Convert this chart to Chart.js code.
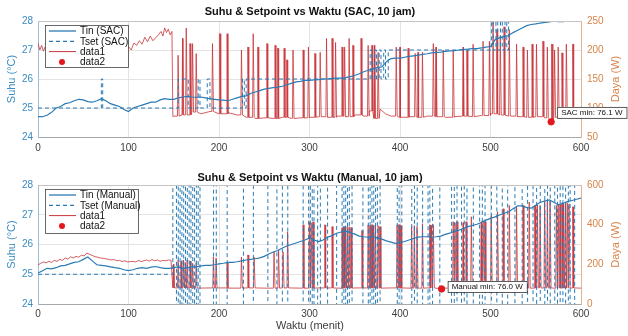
<!DOCTYPE html>
<html>
<head>
<meta charset="utf-8">
<script src="https://cdn.jsdelivr.net/npm/chart.js@4.4.0/dist/chart.umd.min.js"></script>
<style>
  body { margin:0; background:#fff; width:628px; height:336px; overflow:hidden; position:relative; }
  canvas { position:absolute; left:0; }
  #sacChart { top:0; }
  #manChart { top:165px; }
</style>
</head>
<body>
<canvas id="sacChart" width="628" height="160"></canvas>
<canvas id="manChart" width="628" height="171"></canvas>
<script>
// Suhu & daya, SAC vs Manual (10 jam)

const FONT = '"Liberation Sans", Arial, sans-serif';
const BLUE = '#2a7bb5', RED = '#c8353a', DOT = '#e3181e';
const LEFT_CLR = '#3b8cc2', RIGHT_CLR = '#d9834a', GRID = '#e3e3e3';

// --- data: SAC ---
const tinStep = 5; // Tin read every 5 minutes, 0..600
const sacTin = [
  24.70,24.70,24.75,24.85,25.00,25.05,25.15,25.18,25.25,25.30,
  25.28,25.22,25.20,25.25,25.32,25.25,25.15,25.10,25.05,24.95,
  24.88,25.00,25.05,25.10,25.15,25.20,25.20,25.28,25.32,25.30,
  25.30,25.35,25.38,25.40,25.38,25.37,25.38,25.35,25.32,25.30,
  25.28,25.27,25.25,25.30,25.35,25.40,25.42,25.50,25.55,25.60,
  25.65,25.68,25.70,25.72,25.75,25.80,25.85,25.90,25.92,25.95,
  25.95,25.97,25.98,26.00,26.00,26.02,26.03,26.03,26.05,26.08,
  26.12,26.18,26.25,26.30,26.35,26.40,26.42,26.60,26.70,26.72,
  26.72,26.75,26.78,26.80,26.82,26.85,26.87,26.90,26.92,26.93,
  26.95,26.97,26.98,27.00,27.02,27.03,27.05,27.05,27.07,27.10,
  27.12,27.35,27.42,27.47,27.50,27.60,27.68,27.76,27.84,27.88,
  27.90,27.93,27.95,27.97,28.00,27.98,27.98,28.00,28.02,28.03,
  28.06
];
const sacTsetAt    = [0,70,71.5,155,166,177,179,187,190,226,228,230,367,369,372,374,377,379,382,384,387,501,503,506,508,511,513,516,518,520,600];
const sacTsetLevel = [25,26,25,  26, 25, 26, 25, 26, 25, 26, 25, 26, 27, 26, 27, 26, 27, 26, 27, 26, 27, 28, 27, 28, 27, 28, 27, 28, 27, 28, 28];

const sacPreX = [0,2,4,6,8,12,16,20,24,28,32,36,40,44,48,52,56,60,64,68,72,76,80,84,88,92,96,100,103,106,109,112,115,118,121,124,127,130,133,136,138,140,142,144,146,148,149];
const sacPreY = [212,200,208,198,206,204,210,202,208,212,205,210,214,206,212,208,215,210,205,212,208,214,206,212,208,204,200,206,200,212,208,216,210,222,214,224,216,221,226,232,224,238,230,236,226,232,85];
const sacBaseX = [150,160,170,180,190,200,210,220,230,240,250,260,270,280,290,300,310,320,330,340,350,360,366,372,378,384,390,400,410,420,430,440,450,460,470,480,490,500,510,520,530,540,550,560,567,570,580,590,600];
const sacBaseY = [86,88,93,90,94,90,92,88,84,82,83,82,84,82,83,84,85,84,86,85,88,86,95,82,98,90,86,84,85,84,86,85,84,85,86,85,87,90,88,86,85,84,85,83,78,84,85,86,85];
const sacSpikeX = [155,160,164,168,171,175,193,201,209,225,232,238,243,253,262,265,272,275,282,293,299,306,312,319,325,329,336,339,344,348,357,365,369,372,376,396,400,409,417,420,425,437,440,448,459,470,474,481,492,499,503,507,511,515,521,529,536,541,546,551,558,563,568,571,575,579,584,591];
const sacSpikeY = [191,220,238,211,211,194,211,228,228,200,205,228,205,211,208,203,203,183,200,200,205,194,196,220,220,213,205,205,220,208,220,208,208,208,196,205,205,203,194,196,196,211,205,200,200,205,200,210,215,215,250,235,225,240,235,210,205,200,210,210,215,205,210,200,205,195,210,210];
const sacMin = {x:567, y:76.1};

// --- data: Manual ---
const manTin = [
  25.04,25.12,25.20,25.18,25.22,25.28,25.30,25.35,25.40,25.42,
  25.50,25.58,25.45,25.32,25.30,25.28,25.25,25.22,25.20,25.15,
  25.12,25.15,25.20,25.22,25.20,25.24,25.26,25.22,25.20,25.20,
  25.22,25.25,25.20,25.22,25.25,25.25,25.28,25.30,25.30,25.32,
  25.35,25.37,25.40,25.40,25.42,25.45,25.48,25.50,25.52,25.55,
  25.60,25.68,25.75,25.80,25.88,25.95,26.00,26.05,26.10,26.15,
  26.22,26.15,26.10,26.15,26.25,26.30,26.38,26.42,26.45,26.40,
  26.35,26.28,26.26,26.25,26.26,26.22,26.18,26.12,26.08,26.04,
  26.06,26.10,26.15,26.20,26.25,26.26,26.26,26.25,26.26,26.28,
  26.34,26.38,26.44,26.48,26.54,26.60,26.64,26.68,26.74,26.82,
  26.88,26.93,26.99,27.05,27.10,27.20,27.30,27.30,27.24,27.22,
  27.32,27.42,27.46,27.50,27.42,27.33,27.38,27.44,27.48,27.52,
  27.56
];
// setpoint jumps far off the axis after 149 min, only the vertical edges show
const manTsetSwitch = [149,153,155,157,159,161,163,165,167,169,171,173,175,177,179,194,197,209,227,238,254,264,270,276,293,299,301,303,305,309,312,320,330,336,338,340,342,344,347,359,365,367,369,371,373,375,378,397,399,402,413,416,419,425,431,433,436,444,457,460,463,468,471,474,481,488,491,494,501,507,513,519,527,535,541,547,551,555,560,563,566,571,574,577,580,583,586,588,593];
const manTsetHi = 31, manTsetLo = 17, manTsetStart = 25;

const manPreX = [0,3,6,9,12,15,18,21,24,27,30,33,36,39,42,45,48,51,54,57,60,63,66,69,72,75,78,81,84,87,90,93,96,99,102,105,108,111,114,117,120,123,126,129,132,135,138,141,144,147,149];
const manPreY = [197,205,212,208,215,210,220,215,225,220,232,226,238,232,240,236,246,242,257,250,245,238,236,232,230,228,225,222,224,218,220,214,218,212,214,215,212,220,214,218,222,216,224,218,222,215,220,218,222,220,81];
const manBaseX = [150,170,190,210,230,250,270,290,310,330,350,370,390,410,430,446,450,470,490,510,530,550,570,590,600];
const manBaseY = [81,80,81,80,81,80,81,80,81,80,81,80,81,80,81,76,80,81,80,81,80,81,80,81,80];
const manSpikeX = [150,155,158,161,163,165,168,171,175,194,197,209,225,232,239,261,266,271,276,293,300,302,304,317,325,336,338,340,342,344,346,358,365,367,369,371,373,376,378,397,399,401,413,416,419,425,433,435,437,459,461,463,470,473,479,490,492,494,501,508,514,521,529,536,543,549,552,555,560,563,566,573,575,577,579,581,583,585,587,591];
const manSpikeY = [200,222,215,222,210,222,215,205,210,237,232,207,237,247,237,263,273,263,364,399,414,410,414,399,390,385,390,392,388,390,385,370,399,395,400,395,399,395,390,399,400,395,390,395,390,405,399,395,400,415,410,415,410,415,440,415,420,415,445,465,480,497,490,497,514,497,500,497,522,515,520,497,505,500,510,505,500,510,505,490];
const manMin = {x:446, y:76.0};

const timeTicks = [0,100,200,300,400,500,600];

// build a power trace from the read pre-150 values, baseline levels and spike tops
function buildPower(preX, preY, baseX, baseY, spikeX, spikeY) {
  const pts = preX.map((x,i)=>({x, y:preY[i]}));
  baseX.forEach((x,i)=>pts.push({x, y:baseY[i]}));
  const baseAt = x => {
    let b = baseY[0];
    baseX.forEach((bx,i)=>{ if (bx <= x) b = baseY[i]; });
    return b;
  };
  spikeX.forEach((x,i)=>{
    const b = baseAt(x);
    pts.push({x:x-0.9, y:b}, {x:x-0.2, y:spikeY[i]}, {x:x+0.2, y:spikeY[i]}, {x:x+0.9, y:b});
  });
  return pts.sort((p,q)=>p.x-q.x);
}

const sacTsetPts = sacTsetAt.map((x,i)=>({x, y:sacTsetLevel[i]}));
const manTsetPts = [{x:0, y:manTsetStart}]
  .concat(manTsetSwitch.map((x,i)=>({x, y: i%2 ? manTsetLo : manTsetHi})))
  .concat([{x:600, y: manTsetSwitch.length%2 ? manTsetHi : manTsetLo}]);

// --- overlay: titles, axis labels, legend, datatip ---
const overlay = {
  id:'overlay',
  afterDraw(chart, args, o) {
    const {ctx, chartArea:a} = chart;
    ctx.save();
    // top edge of the box
    ctx.strokeStyle = '#c4c4c4'; ctx.lineWidth = 1;
    ctx.beginPath(); ctx.moveTo(a.left, a.top+0.5); ctx.lineTo(a.right, a.top+0.5); ctx.stroke();

    ctx.textBaseline = 'middle';
    ctx.textAlign = 'center';
    ctx.fillStyle = '#111';
    ctx.font = `bold 11px ${FONT}`;
    ctx.fillText(o.title, o.titleX, o.titleY);

    if (o.xTitle) {
      ctx.font = `11px ${FONT}`; ctx.fillStyle = '#404040';
      ctx.fillText(o.xTitle, o.titleX, o.xTitleY);
    }

    const midY = (a.top + a.bottom) / 2;
    ctx.font = `11px ${FONT}`;
    ctx.fillStyle = LEFT_CLR;
    ctx.save(); ctx.translate(12, midY); ctx.rotate(-Math.PI/2); ctx.fillText('Suhu (°C)', 0, 0); ctx.restore();
    ctx.fillStyle = RIGHT_CLR;
    ctx.save(); ctx.translate(616, midY); ctx.rotate(-Math.PI/2); ctx.fillText('Daya (W)', 0, 0); ctx.restore();

    // legend
    const L = o.legend;
    ctx.fillStyle = '#fff'; ctx.fillRect(L.x, L.y, L.w, L.h);
    ctx.strokeStyle = '#444'; ctx.lineWidth = 0.8; ctx.strokeRect(L.x+0.5, L.y+0.5, L.w, L.h);
    ctx.textAlign = 'left';
    ctx.font = `10px ${FONT}`;
    chart.data.datasets.forEach((ds, i) => {
      const ry = L.y + 6 + i*10.3;
      ctx.strokeStyle = ds.borderColor;
      ctx.lineWidth = ds.label === 'data1' ? 1 : 1.3;
      ctx.setLineDash(ds.borderDash || []);
      if (ds.showLine === false) {
        ctx.fillStyle = DOT;
        ctx.beginPath(); ctx.arc(L.x + 17, ry, 3, 0, Math.PI*2); ctx.fill();
      } else {
        ctx.beginPath(); ctx.moveTo(L.x + 4, ry); ctx.lineTo(L.x + 31, ry); ctx.stroke();
      }
      ctx.setLineDash([]);
      ctx.fillStyle = '#111';
      ctx.fillText(ds.label, L.x + 35, ry + 0.5);
    });

    // datatip on the minimum
    const pt = chart.getDatasetMeta(3).data[0];
    if (pt) {
      ctx.font = `8px ${FONT}`;
      const tw = ctx.measureText(o.tip).width;
      const bx = pt.x + o.tipDx, by = pt.y + o.tipDy;
      ctx.fillStyle = '#fff'; ctx.fillRect(bx, by, tw + 8, 11);
      ctx.strokeStyle = '#333'; ctx.lineWidth = 0.8; ctx.strokeRect(bx+0.5, by+0.5, tw + 8, 11);
      ctx.fillStyle = '#111';
      ctx.fillText(o.tip, bx + 4, by + 6);
    }
    ctx.restore();
  }
};

function makeChart(id, cfg) {
  const xAxis = {
    type:'linear', min:0, max:600,
    afterBuildTicks: s => { s.ticks = timeTicks.map(v=>({value:v})); },
    afterFit: s => { s.height = cfg.xHeight; },
    grid:{color:GRID, drawTicks:false},
    border:{color:'#a8a8a8'},
    ticks:{color:'#404040', padding:cfg.xPad, font:{family:FONT, size:10}, maxRotation:0}
  };
  return new Chart(document.getElementById(id), {
    type:'line',
    data:{ datasets:[
      {label:cfg.names[0], data:cfg.tin.map((y,i)=>({x:i*tinStep, y})), yAxisID:'y',
       borderColor:BLUE, borderWidth:1.2, pointRadius:0, order:1},
      {label:cfg.names[1], data:cfg.tset, yAxisID:'y', stepped:true, borderDash:[4,3],
       borderColor:BLUE, borderWidth:1, pointRadius:0, order:2},
      {label:'data1', data:cfg.power, yAxisID:'y1',
       borderColor:RED, borderWidth:0.8, pointRadius:0, order:3},
      {label:'data2', data:[cfg.min], yAxisID:'y1', showLine:false,
       borderColor:DOT, pointRadius:3.2, pointBackgroundColor:DOT, pointBorderColor:DOT, order:0}
    ]},
    options:{
      responsive:false, animation:false, devicePixelRatio:1,
      layout:{padding:{top:cfg.padTop, left:0, right:0, bottom:0}},
      plugins:{legend:{display:false}, tooltip:{enabled:false}, overlay:cfg.overlay},
      scales:{
        x:xAxis,
        y:{position:'left', min:24, max:28,
           afterFit: s => { s.width = 38; },
           grid:{color:GRID, drawTicks:false}, border:{color:'#9cc0dc'},
           ticks:{stepSize:1, color:LEFT_CLR, padding:5, font:{family:FONT, size:10}}},
        y1:{position:'right', min:cfg.pMin, max:cfg.pMax,
           afterFit: s => { s.width = 47; },
           grid:{display:false, drawTicks:false}, border:{color:'#e3b48f'},
           ticks:{stepSize:cfg.pStep, color:RIGHT_CLR, padding:6, font:{family:FONT, size:10}}}
      }
    },
    plugins:[overlay]
  });
}

makeChart('sacChart', {
  names:['Tin (SAC)','Tset (SAC)'],
  tin:sacTin, tset:sacTsetPts,
  power:buildPower(sacPreX, sacPreY, sacBaseX, sacBaseY, sacSpikeX, sacSpikeY),
  min:sacMin, pMin:50, pMax:250, pStep:50,
  padTop:21, xHeight:23, xPad:5,
  overlay:{title:'Suhu & Setpoint vs Waktu (SAC, 10 jam)', titleX:310, titleY:12,
           legend:{x:45, y:25, w:83, h:42}, tip:'SAC min: 76.1 W', tipDx:6, tipDy:-15}
});

makeChart('manChart', {
  names:['Tin (Manual)','Tset (Manual)'],
  tin:manTin, tset:manTsetPts,
  power:buildPower(manPreX, manPreY, manBaseX, manBaseY, manSpikeX, manSpikeY),
  min:manMin, pMin:0, pMax:600, pStep:200,
  padTop:20, xHeight:32, xPad:4,
  overlay:{title:'Suhu & Setpoint vs Waktu (Manual, 10 jam)', titleX:310, titleY:13,
           xTitle:'Waktu (menit)', xTitleY:161,
           legend:{x:45, y:24, w:93, h:44}, tip:'Manual min: 76.0 W', tipDx:6, tipDy:-8}
});
</script>
</body>
</html>
